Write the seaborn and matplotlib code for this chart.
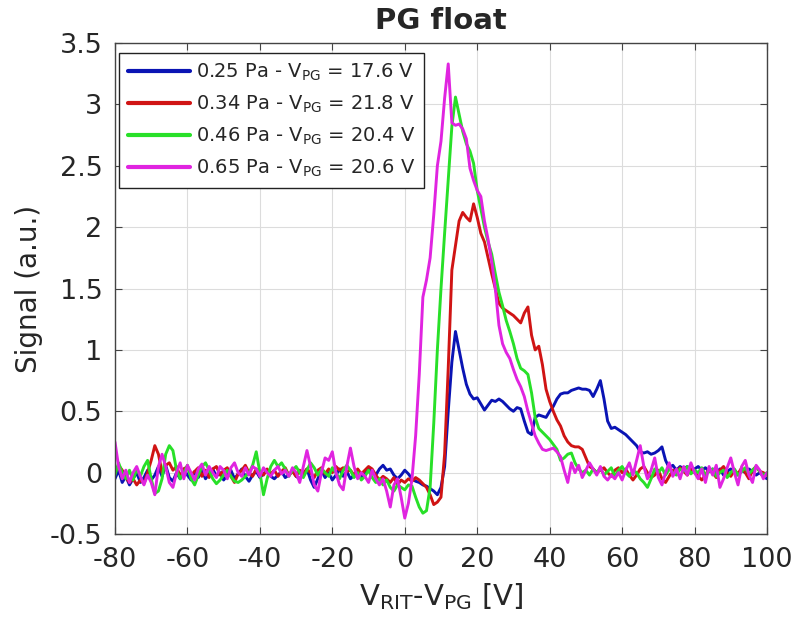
import numpy as np
import pandas as pd
import matplotlib
matplotlib.use("Agg")
import matplotlib.pyplot as plt
import seaborn as sns

# sample positions (V_RIT - V_PG), 1 V step from -80 to 100
x_vals = list(range(-80, 101))

labels = [r"0.25 Pa - V$_{\mathregular{PG}}$ = 17.6 V",
          r"0.34 Pa - V$_{\mathregular{PG}}$ = 21.8 V",
          r"0.46 Pa - V$_{\mathregular{PG}}$ = 20.4 V",
          r"0.65 Pa - V$_{\mathregular{PG}}$ = 20.6 V"]
colors = ["#0a14b4", "#d01414", "#28e028", "#e024e0"]

sig_025 = [
    -0.05, 0.02, -0.08, -0.03, -0.10, -0.05, 0.00, -0.08, -0.04, 0.02,
    -0.06, -0.02, 0.05, -0.03, 0.06, -0.04, -0.07, 0.00, -0.05, 0.03,
    -0.02, -0.06, 0.01, -0.04, 0.02, -0.05, -0.01, 0.03, -0.03, 0.00,
    -0.06, -0.02, 0.02, -0.05, -0.01, 0.03, -0.03, -0.07, -0.02, 0.01,
    -0.04, -0.01, 0.02, -0.03, -0.05, -0.02, 0.01, -0.04, -0.02, 0.02,
    -0.03, -0.05, -0.01, 0.03, -0.06, -0.12, -0.05, 0.02, -0.04, 0.00,
    -0.06, -0.02, 0.03, -0.03, 0.01, -0.05, -0.02, 0.02, -0.04, -0.01,
    0.03, 0.00, -0.02, 0.03, 0.06, 0.02, 0.03, -0.02, -0.05, -0.02,
    0.02, -0.01, -0.05, -0.07, -0.08, -0.10, -0.11, -0.13, -0.15, -0.18,
    -0.12, 0.05, 0.50, 0.90, 1.15, 1.00, 0.85, 0.72, 0.64, 0.60,
    0.61, 0.56, 0.51, 0.55, 0.59, 0.58, 0.60, 0.58, 0.55, 0.52,
    0.50, 0.53, 0.52, 0.42, 0.33, 0.31, 0.45, 0.47, 0.46, 0.45,
    0.50, 0.54, 0.60, 0.64, 0.65, 0.65, 0.67, 0.68, 0.69, 0.68,
    0.68, 0.67, 0.62, 0.68, 0.75, 0.60, 0.42, 0.36, 0.37, 0.35,
    0.33, 0.31, 0.28, 0.25, 0.22, 0.17, 0.16, 0.17, 0.15, 0.16,
    0.18, 0.21, 0.10, 0.04, 0.06, 0.02, 0.05, 0.03, 0.05, 0.02,
    0.03, 0.05, 0.02, 0.04, 0.01, 0.03, 0.00, 0.03, -0.02, 0.01,
    0.03, 0.00, -0.02, 0.02, 0.00, 0.03, 0.01, -0.02, 0.00, -0.03,
    -0.05]

sig_034 = [
    0.00, 0.06, 0.02, -0.04, -0.08, -0.05, -0.10, -0.06, -0.09, 0.00,
    0.10, 0.22, 0.15, 0.00, 0.06, 0.08, 0.02, 0.05, -0.03, 0.03,
    0.05, -0.02, 0.01, 0.04, -0.03, 0.02, -0.04, 0.03, 0.05, -0.02,
    0.02, 0.04, -0.03, -0.08, -0.01, 0.02, 0.06, 0.00, -0.03, 0.03,
    0.00, -0.02, 0.03, -0.01, 0.02, -0.03, 0.01, 0.04, -0.02, 0.01,
    -0.03, 0.02, -0.01, 0.03, 0.00, -0.04, 0.02, 0.04, -0.01, 0.03,
    0.00, 0.05, 0.02, 0.04, 0.01, 0.02, -0.02, 0.03, -0.01, 0.02,
    0.05, 0.03, -0.02, -0.06, -0.03, -0.05, -0.08, -0.04, -0.10, -0.06,
    -0.08, -0.05, -0.07, -0.04, -0.06, -0.09, -0.12, -0.18, -0.26, -0.24,
    -0.20, 0.15, 0.85, 1.65, 1.85, 2.05, 2.12, 2.08, 2.05, 2.19,
    2.08, 1.95, 1.88, 1.75, 1.62, 1.50, 1.38, 1.34, 1.32, 1.30,
    1.28, 1.25, 1.22, 1.30, 1.35, 1.12, 1.00, 1.03, 0.88, 0.68,
    0.58, 0.50, 0.43, 0.38, 0.30, 0.25, 0.22, 0.21, 0.21, 0.19,
    0.12, 0.05, 0.03, 0.00, 0.02, 0.04, 0.00, -0.03, 0.02, 0.04,
    0.00, 0.03, -0.02, -0.06, -0.02, 0.03, 0.05, 0.00, -0.04, -0.02,
    0.02, -0.05, -0.08, -0.03, 0.02, 0.00, 0.04, 0.01, -0.02, 0.03,
    0.00, -0.03, -0.06, -0.02, 0.03, 0.00, -0.04, 0.02, 0.05, 0.00,
    -0.03, 0.02, -0.01, 0.04, 0.00, -0.05, 0.02, 0.05, 0.01, 0.00,
    -0.02]

sig_046 = [
    -0.02, 0.08, 0.00, -0.05, 0.02, -0.06, 0.03, -0.03, 0.05, 0.10,
    -0.05, -0.17, -0.15, -0.05, 0.15, 0.22, 0.18, 0.02, -0.05, 0.00,
    0.06, -0.05, -0.10, -0.02, 0.05, 0.08, 0.02, -0.05, -0.09, -0.06,
    -0.02, 0.02, -0.03, -0.07, -0.08, -0.06, -0.03, 0.00, 0.06, 0.17,
    0.00, -0.18, -0.05, 0.05, 0.10, 0.05, 0.08, 0.03, -0.03, 0.02,
    0.05, 0.00, -0.04, 0.02, 0.08, 0.04, -0.02, 0.03, 0.00, -0.03,
    0.04, 0.00, -0.05, 0.02, 0.06, 0.02, -0.04, 0.00, -0.06, -0.03,
    0.02, -0.04, -0.08, -0.05, -0.10, -0.06, -0.12, -0.15, -0.10, -0.12,
    -0.14, -0.10, -0.11, -0.20, -0.28, -0.33, -0.31, -0.12, 0.40, 1.00,
    1.50, 1.95, 2.38, 2.82, 3.06, 2.92, 2.78, 2.68, 2.62, 2.52,
    2.30, 2.15, 2.00, 1.88, 1.78, 1.62, 1.47, 1.36, 1.24, 1.15,
    1.05, 0.93, 0.85, 0.83, 0.80, 0.65, 0.45, 0.36, 0.33, 0.30,
    0.27, 0.23, 0.19, 0.10, 0.12, 0.15, 0.16, 0.08, 0.03, 0.00,
    0.02, -0.02, 0.03, 0.00, 0.04, -0.02, 0.01, 0.04, -0.03, 0.02,
    0.05, 0.00, -0.03, 0.02, 0.00, -0.05, -0.08, -0.12, -0.05, 0.03,
    0.00, 0.04, -0.02, 0.03, 0.00, -0.02, 0.03, 0.01, 0.05, -0.01,
    0.02, 0.00, 0.04, -0.02, 0.01, 0.03, -0.03, 0.00, 0.02, -0.04,
    0.00, 0.03, -0.02, 0.01, 0.04, -0.01, 0.02, 0.05, 0.01, -0.02,
    0.00]

sig_065 = [
    0.25, 0.05, -0.05, 0.02, -0.08, 0.00, 0.05, -0.03, -0.10, -0.02,
    -0.08, -0.18, 0.05, 0.15, 0.05, -0.08, -0.12, 0.00, 0.08, -0.05,
    0.06, 0.00, -0.06, 0.03, 0.07, -0.02, 0.05, 0.00, -0.04, 0.05,
    0.02, -0.05, 0.04, 0.08, 0.00, -0.03, 0.04, -0.02, 0.05, 0.03,
    -0.03, 0.04, 0.00, -0.03, 0.02, 0.05, -0.01, 0.02, -0.03, 0.04,
    0.00, -0.08, 0.05, 0.18, 0.05, -0.10, -0.15, 0.00, 0.12, 0.10,
    0.17, 0.00, -0.10, -0.14, 0.05, 0.20, 0.05, -0.05, 0.00, -0.03,
    -0.08, 0.02, -0.05, -0.10, -0.05, -0.15, -0.28, -0.10, -0.05, -0.20,
    -0.37, -0.25, -0.05, 0.30, 0.80, 1.43, 1.57, 1.75, 2.10, 2.50,
    2.70, 3.05, 3.33, 2.85, 2.83, 2.84, 2.80, 2.72, 2.48, 2.38,
    2.30, 2.25, 2.05, 1.90, 1.72, 1.50, 1.20, 1.05, 0.98, 0.93,
    0.84, 0.76, 0.70, 0.62, 0.50, 0.40, 0.30, 0.24, 0.19, 0.18,
    0.19, 0.20, 0.17, 0.13, 0.02, -0.08, 0.08, 0.00, 0.06, -0.04,
    0.02, 0.08, 0.03, -0.02, 0.05, -0.03, -0.06, -0.02, -0.05, 0.00,
    -0.06, 0.02, 0.08, -0.02, 0.10, 0.22, 0.05, -0.05, 0.02, 0.12,
    -0.04, -0.10, 0.00, 0.08, -0.03, 0.03, -0.05, 0.05, -0.02, 0.08,
    0.00, -0.05, 0.03, -0.08, 0.05, -0.02, 0.06, -0.12, -0.05, 0.04,
    0.12, 0.00, -0.10, 0.05, 0.10, -0.02, -0.08, 0.06, 0.02, -0.05,
    0.00]

x_ticks = [-80, -60, -40, -20, 0, 20, 40, 60, 80, 100]
y_ticks = [-0.5, 0, 0.5, 1, 1.5, 2, 2.5, 3, 3.5]
y_ticklabels = ["-0.5", "0", "0.5", "1", "1.5", "2", "2.5", "3", "3.5"]

frames = []
for lab, sig in zip(labels, [sig_025, sig_034, sig_046, sig_065]):
    frames.append(pd.DataFrame({"x": x_vals, "y": sig, "series": lab}))
df = pd.concat(frames, ignore_index=True)

sns.set_style("whitegrid")
plt.rcParams["font.family"] = ["DejaVu Sans"]

fig = plt.figure(figsize=(7.94, 6.24), dpi=100)
ax = fig.add_axes([0.1448, 0.1442, 0.8212, 0.7868])

sns.lineplot(data=df, x="x", y="y", hue="series", palette=colors,
             hue_order=labels, estimator=None, sort=False, linewidth=2.1,
             ax=ax)

ax.set_xlim(-80, 100)
ax.set_ylim(-0.5, 3.5)
ax.set_xticks(x_ticks)
ax.set_xticklabels([str(t) for t in x_ticks])
ax.set_yticks(y_ticks)
ax.set_yticklabels(y_ticklabels)
ax.tick_params(axis="both", which="both", direction="in", length=5,
               width=0.8, color="#444444", labelsize=19.5, labelcolor="#262626",
               top=True, right=True, bottom=True, left=True, pad=9)
ax.grid(True, color="#dcdcdc", linewidth=0.8)
for sp in ax.spines.values():
    sp.set_visible(True)
    sp.set_color("#444444")
    sp.set_linewidth(1.0)

ax.set_xlabel(r"V$_{\mathregular{RIT}}$-V$_{\mathregular{PG}}$ [V]",
              fontsize=21, color="#262626", labelpad=6)
ax.set_ylabel("Signal (a.u.)", fontsize=20, color="#262626", labelpad=5)
ax.set_title("PG float", fontsize=21, fontweight="bold", pad=10)

leg = ax.legend(loc="upper left", bbox_to_anchor=(4 / 652, 1 - 10 / 491),
                borderaxespad=0, fontsize=14, frameon=True, fancybox=False,
                edgecolor="#222222", framealpha=1, handlelength=3.2,
                handletextpad=0.3, borderpad=0.45, labelspacing=0.55)
leg.get_frame().set_linewidth(1.0)
for line in leg.get_lines():
    line.set_linewidth(3.0)

fig.savefig("out.png", dpi=100)
